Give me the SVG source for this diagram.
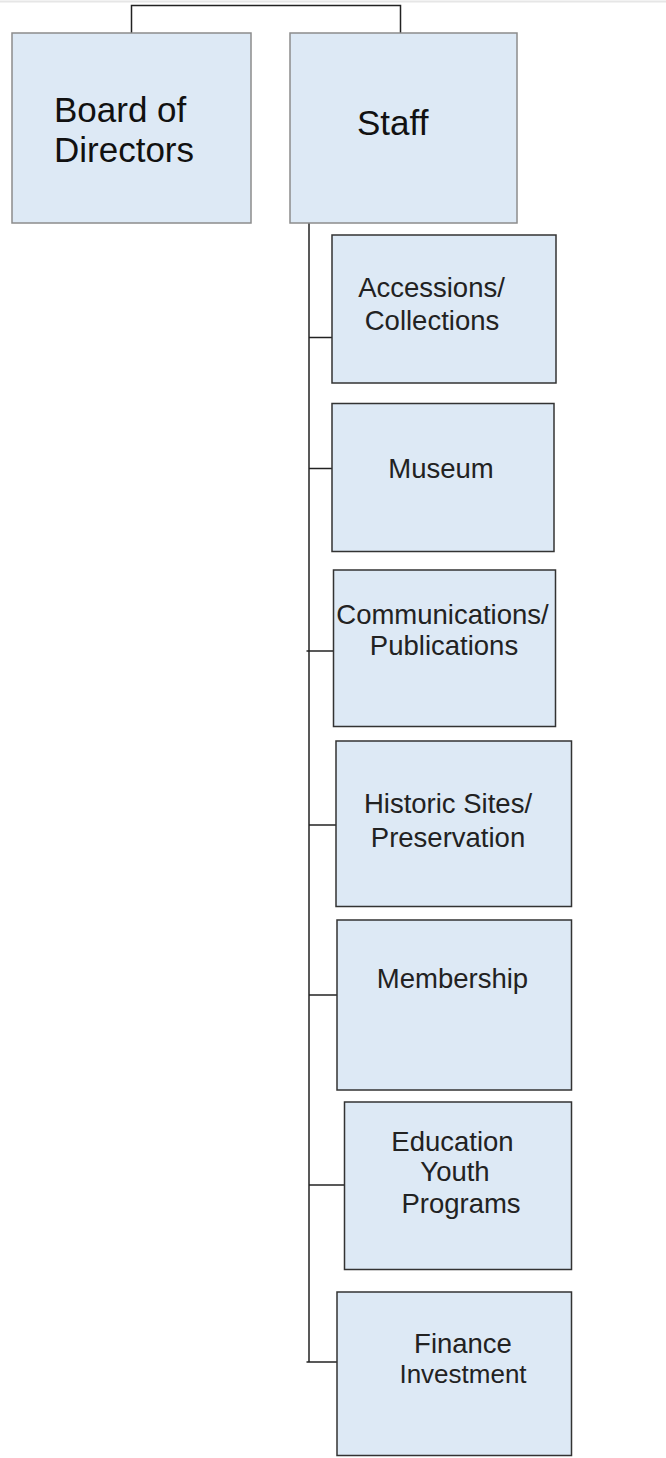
<svg xmlns="http://www.w3.org/2000/svg" width="666" height="1458" viewBox="0 0 666 1458">
<style>
.top{fill:#dde9f5;stroke:#8c8c8c;stroke-width:1.5}
.box{fill:#dde9f5;stroke:#333;stroke-width:1.5}
.big{font-family:"Liberation Sans",Arial,sans-serif;font-size:35px;fill:#111}
.t{font-family:"Liberation Sans",Arial,sans-serif;font-size:27.5px;fill:#222;text-anchor:middle}
.ln{stroke:#222;stroke-width:1.5;fill:none}
</style>
<rect x="0" y="0" width="666" height="1458" fill="#fff"/>
<line x1="0" y1="1.5" x2="666" y2="1.5" stroke="#e6e6e6" stroke-width="2"/>
<g id="connectors">
<path class="ln" d="M131.5,33 V5.5 H400.5 V33"/>
<path class="ln" d="M309,223 V1362"/>
<path class="ln" d="M309,337.5 H332"/>
<path class="ln" d="M309,468.5 H332"/>
<path class="ln" d="M306.5,651 H333"/>
<path class="ln" d="M309,825 H336"/>
<path class="ln" d="M309,995 H337"/>
<path class="ln" d="M309,1185 H344"/>
<path class="ln" d="M306.5,1362 H337"/>
</g>
<g id="board">
<rect class="top" x="12" y="33" width="239" height="190"/>
<text class="big" x="54" y="122">Board of</text>
<text class="big" x="54" y="162">Directors</text>
</g>
<g id="staff">
<rect class="top" x="290" y="33" width="227" height="190"/>
<text class="big" x="357" y="135">Staff</text>
</g>
<g id="accessions">
<rect class="box" x="332" y="235" width="224" height="148"/>
<text class="t" x="431.5" y="297">Accessions/</text>
<text class="t" x="432" y="330">Collections</text>
</g>
<g id="museum">
<rect class="box" x="332" y="403.5" width="222" height="148"/>
<text class="t" x="441" y="478">Museum</text>
</g>
<g id="communications">
<rect class="box" x="333.5" y="570" width="222" height="156.5"/>
<text class="t" x="442.5" y="624">Communications/</text>
<text class="t" x="444" y="655">Publications</text>
</g>
<g id="historic">
<rect class="box" x="336" y="741" width="235.5" height="165.5"/>
<text class="t" x="448" y="813">Historic Sites/</text>
<text class="t" x="448" y="846.5">Preservation</text>
</g>
<g id="membership">
<rect class="box" x="337" y="920" width="234.5" height="170"/>
<text class="t" x="452.5" y="988">Membership</text>
</g>
<g id="education">
<rect class="box" x="344.5" y="1102" width="227" height="167.5"/>
<text class="t" x="452.5" y="1150.5">Education</text>
<text class="t" x="455" y="1181">Youth</text>
<text class="t" x="461" y="1213">Programs</text>
</g>
<g id="finance">
<rect class="box" x="337" y="1292" width="234.5" height="163.5"/>
<text class="t" x="463" y="1353">Finance</text>
<text class="t" x="463" y="1383" style="font-size:26px">Investment</text>
</g>
</svg>
